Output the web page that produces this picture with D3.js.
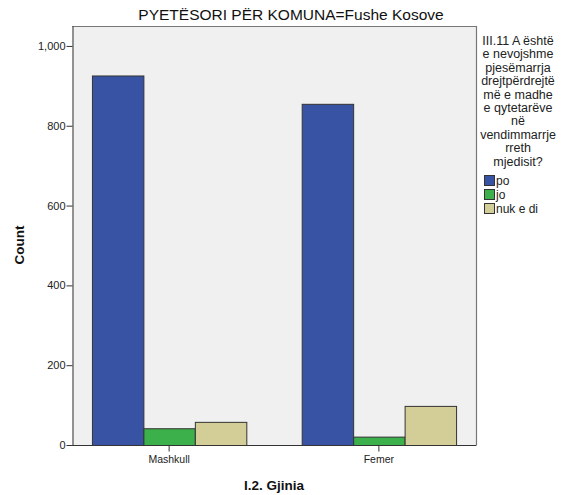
<!DOCTYPE html>
<html><head><meta charset="utf-8">
<script src="https://cdn.jsdelivr.net/npm/d3@7"></script>
<style>body{margin:0;background:#fff}svg{display:block}text{font-family:Arial,"Liberation Sans",sans-serif}</style>
</head><body>
<script>
const categories = ["Mashkull", "Femer"];
const seriesNames = ["po", "jo", "nuk e di"];
const po = [926, 855];
const jo = [42, 21];
const nuk = [58, 98];
const yTicks = [0, 200, 400, 600, 800, 1000];
const colors = ["#3953a4", "#3cb04a", "#d3ce97"];
const legendTitle = ["III.11 A është","e nevojshme","pjesëmarrja","drejtpërdrejtë","më e madhe","e qytetarëve","në","vendimmarrje","rreth","mjedisit?"];

const W = 564, H = 495;
const L = 72, R = 476, T = 26, B = 445;
const svg = d3.select("body").append("svg").attr("width", W).attr("height", H);

const x0 = d3.scaleBand().domain(categories).range([L, R]).paddingInner(0.264).paddingOuter(0.095);
const x1 = d3.scaleBand().domain(seriesNames).range([0, x0.bandwidth()]);
const y = d3.scaleLinear().domain([0, 1050]).range([B, T]);

svg.append("rect").attr("x", L).attr("y", T).attr("width", R - L).attr("height", B - T).attr("fill", "#f0f0f0");

const data = categories.map((c, i) => ({c, vals: [po[i], jo[i], nuk[i]]}));
const g = svg.append("g");
data.forEach(d => {
  d.vals.forEach((v, j) => {
    g.append("rect")
      .attr("x", x0(d.c) + x1(seriesNames[j]) + 0.5)
      .attr("y", y(v) + 0.5)
      .attr("width", x1.bandwidth())
      .attr("height", B - y(v))
      .attr("fill", colors[j])
      .attr("stroke", "#333").attr("stroke-width", 1);
  });
});

// frame
svg.append("path").attr("d", `M${L},${T+0.5}H${R+0.5}V${B}`).attr("fill", "none").attr("stroke", "#777").attr("stroke-width", 1.2);

const yAxis = d3.axisLeft(y).tickValues(yTicks).tickFormat(d3.format(",")).tickSize(6).tickSizeOuter(0);
const ya = svg.append("g").attr("transform", `translate(${L + 0.5},0)`).call(yAxis);
ya.select(".domain").attr("stroke", "#333");
ya.selectAll(".tick line").attr("stroke", "#333");
ya.selectAll("text").attr("font-size", 11).attr("fill", "#222").attr("x", -7);

const xAxis = d3.axisBottom(x0).tickSize(6).tickSizeOuter(0);
const xa = svg.append("g").attr("transform", `translate(0,${B + 0.5})`).call(xAxis);
xa.select(".domain").attr("stroke", "#333").attr("d", `M${L},0H${R + 0.5}`);
xa.selectAll(".tick line").attr("stroke", "#333");
xa.selectAll("text").attr("font-size", 10.5).attr("fill", "#222").attr("y", 10);

svg.append("text").attr("x", 291).attr("y", 20).attr("text-anchor", "middle").attr("font-size", 15.5).attr("fill", "#111").text("PYETËSORI PËR KOMUNA=Fushe Kosove");
svg.append("text").attr("transform", "translate(24,245) rotate(-90)").attr("text-anchor", "middle").attr("font-size", 13.5).attr("font-weight", "bold").attr("fill", "#111").text("Count");
svg.append("text").attr("x", 274).attr("y", 490).attr("text-anchor", "middle").attr("font-size", 13.5).attr("font-weight", "bold").attr("fill", "#111").text("I.2. Gjinia");

const lg = svg.append("g");
legendTitle.forEach((t, i) => {
  lg.append("text").attr("x", 518).attr("y", 45 + i * 13.4).attr("text-anchor", "middle").attr("font-size", 12.5).attr("fill", "#222").text(t);
});
seriesNames.forEach((s, i) => {
  const yy = 175 + i * 14;
  lg.append("rect").attr("x", 484.5).attr("y", yy + 0.5).attr("width", 10).attr("height", 10).attr("fill", colors[i]).attr("stroke", "#333");
  lg.append("text").attr("x", 496).attr("y", yy + 9.5).attr("font-size", 12).attr("fill", "#222").text(s);
});
</script>
</body></html>
